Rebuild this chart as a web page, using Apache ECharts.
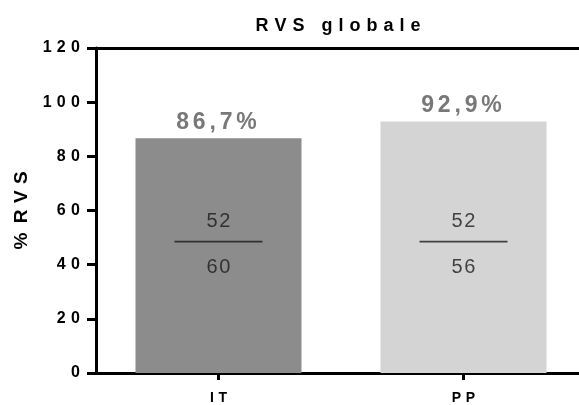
<!DOCTYPE html>
<html>
<head>
<meta charset="utf-8">
<script src="https://cdn.jsdelivr.net/npm/echarts@6/dist/echarts.min.js"></script>
<style>html,body{margin:0;padding:0;background:#fff;}#c{width:579px;height:405px;}</style>
</head>
<body>
<div id="c"></div>
<script>
var categories = ['IT', 'PP'];
var values = [86.7, 92.9];
var valueLabels = ['86,7%', '92,9%'];
var numerators = [52, 52];
var denominators = [60, 56];
var yTicks = [0, 20, 40, 60, 80, 100, 120];
var barColors = ['#8c8c8c', '#d4d4d4'];

function sp(s, ch) { return String(s).split('').join(ch); }
var EN = '\u2002', THREE = '\u2004', FOUR = '\u2005', SIX = '\u2006', THIN = '\u2009', HAIR = '\u200A';
var FONT = '"Liberation Sans", Arial, sans-serif';

var chart = echarts.init(document.getElementById('c'), null, {renderer: 'canvas'});
var FRACTION_Y = 48.5;

chart.setOption({
  animation: false,
  backgroundColor: '#fff',
  title: {
    text: sp('RVS globale', THREE),
    left: 333, top: 12, textAlign: 'center',
    textStyle: {fontFamily: FONT, fontSize: 18, fontWeight: 'bold', color: '#000'}
  },
  grid: {left: 96, width: 490, top: 48, bottom: 32, containLabel: false, outerBoundsMode: 'none'},
  xAxis: [{
    type: 'category', data: categories,
    axisLine: {lineStyle: {color: '#000', width: 3}},
    axisTick: {show: true, alignWithLabel: true, length: 7, lineStyle: {width: 3, color: '#000'}},
    axisLabel: {fontFamily: FONT, fontSize: 14, fontWeight: 'bold', color: '#000', margin: 18,
      formatter: function (v) { return sp(v, THREE); }}
  }, {
    type: 'category', data: categories, position: 'top',
    axisLine: {lineStyle: {color: '#000', width: 3}},
    axisTick: {show: false}, axisLabel: {show: false}
  }],
  yAxis: {
    type: 'value', min: 0, max: 120, interval: 20,
    name: '%' + EN + sp('RVS', THREE), nameLocation: 'middle', nameGap: 64, nameRotate: 90,
    nameTextStyle: {fontFamily: FONT, fontSize: 19, fontWeight: 'bold', color: '#000'},
    splitLine: {show: false},
    axisLine: {show: true, lineStyle: {color: '#000', width: 3}},
    axisTick: {show: true, length: 9, lineStyle: {width: 3, color: '#000'}},
    axisLabel: {fontFamily: FONT, fontSize: 16, fontWeight: 'bold', color: '#000', margin: 16,
      formatter: function (v) { return yTicks.indexOf(v) >= 0 ? sp(v, THREE) : ''; }}
  },
  series: [{
    type: 'bar', barWidth: 166,
    data: values.map(function (v, i) {
      return {value: v, itemStyle: {color: barColors[i], borderColor: barColors[i], borderWidth: 2}};
    }),
    label: {show: true, position: 'top', distance: 4, offset: [-2, 0],
      fontFamily: FONT, fontSize: 23, fontWeight: 'bold', color: '#787878',
      formatter: function (p) { return sp(valueLabels[p.dataIndex], SIX); }}
  }, {
    type: 'scatter',
    z: 5,
    symbol: 'rect', symbolSize: [88, 1.8],
    itemStyle: {color: '#1a1a1a'},
    data: categories.map(function (c, i) { return [c, FRACTION_Y]; }),
    label: {show: true, position: 'inside', offset: [0, 3],
      fontFamily: FONT, fontSize: 20, color: '#1a1a1a', lineHeight: 46, align: 'center',
      formatter: function (p) {
        return sp(numerators[p.dataIndex], HAIR) + '\n' + sp(denominators[p.dataIndex], HAIR);
      }}
  }]
});
</script>
</body>
</html>
